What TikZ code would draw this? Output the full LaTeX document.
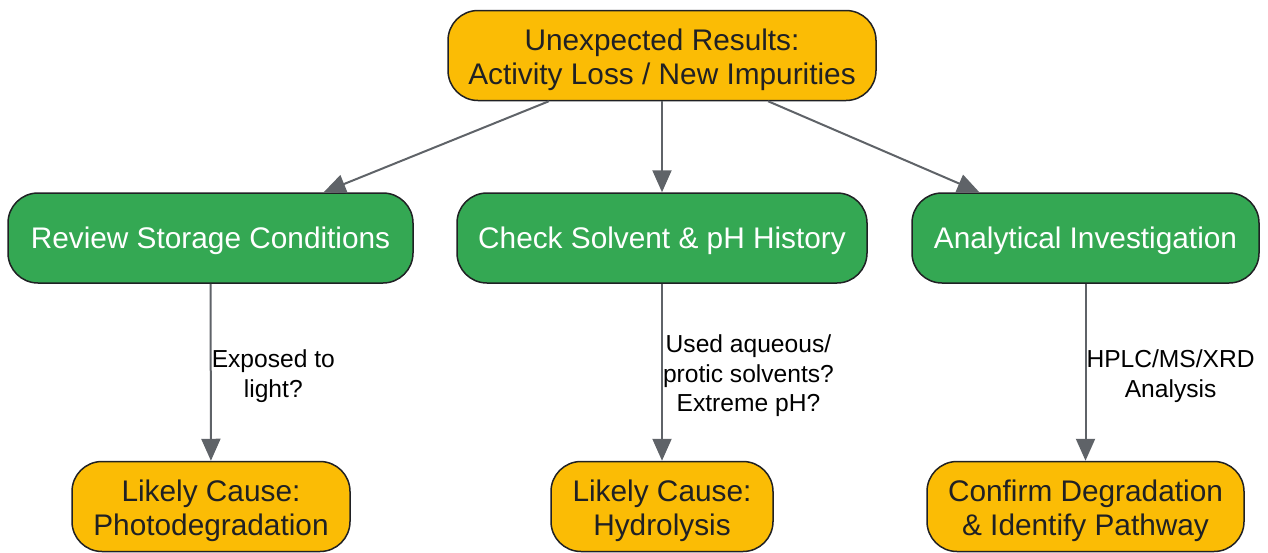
\documentclass[tikz,border=0pt]{standalone}
\usepackage{fontspec}
\setmainfont{Liberation Sans}
\usetikzlibrary{arrows.meta}

\definecolor{gold}{HTML}{FBBC05}
\definecolor{leaf}{HTML}{34A853}
\definecolor{ink}{HTML}{202124}
\definecolor{wire}{HTML}{5F6368}

\tikzset{
    box/.style={draw=ink, line width=1.5pt, rounded corners=30pt, align=center,
        inner sep=0pt, minimum height=90pt, font=\fontsize{29.8}{34}\selectfont,
        text height=27pt, text depth=6.3pt},
    twolines/.style={text height=63.5pt},
    goldbox/.style={box, fill=gold, text=ink, twolines},
    leafbox/.style={box, fill=leaf, text=white},
    link/.style={draw=wire, line width=2pt, -{Triangle[length=22pt,width=19pt]}},
    note/.style={right, inner sep=0pt, align=center, text=black,
        font=\fontsize{24.6}{29.5}\selectfont, text height=55pt, text depth=5.2pt},
    threenote/.style={note, text height=84pt}
}

\begin{document}
\begin{tikzpicture}[x=1pt, y=1pt]
        \useasboundingbox (0,0) rectangle (1268,-552);
        % top of the tree
        \node [goldbox, minimum width=428pt] (start) at (662,-55.5)
            {Unexpected Results:\\Activity Loss / New Impurities};
        % checks
        \node [leafbox, minimum width=405pt] (storage) at (210.5,-238) {Review Storage Conditions};
        \node [leafbox, minimum width=410pt] (solvent) at (662,-238) {Check Solvent \& pH History};
        \node [leafbox, minimum width=347pt] (analysis) at (1085.5,-238) {Analytical Investigation};
        % outcomes
        \node [goldbox, minimum width=278pt] (photo) at (211,-506.5) {Likely Cause:\\Photodegradation};
        \node [goldbox, minimum width=222pt] (hydro) at (662,-506.5) {Likely Cause:\\Hydrolysis};
        \node [goldbox, minimum width=317pt] (confirm) at (1085.5,-506.5)
            {Confirm Degradation\\\& Identify Pathway};

        \draw [link] (start) -- (storage);
        \draw [link] (start) -- (solvent);
        \draw [link] (start) -- (analysis);
        \draw [link] (storage) -- node [note] {Exposed to\\light?} (photo);
        \draw [link] (solvent) -- node [threenote] {Used aqueous/\\protic solvents?\\Extreme pH?} (hydro);
        \draw [link] (analysis) -- node [note] {HPLC/MS/XRD\\Analysis} (confirm);
    \end{tikzpicture}
\end{document}
